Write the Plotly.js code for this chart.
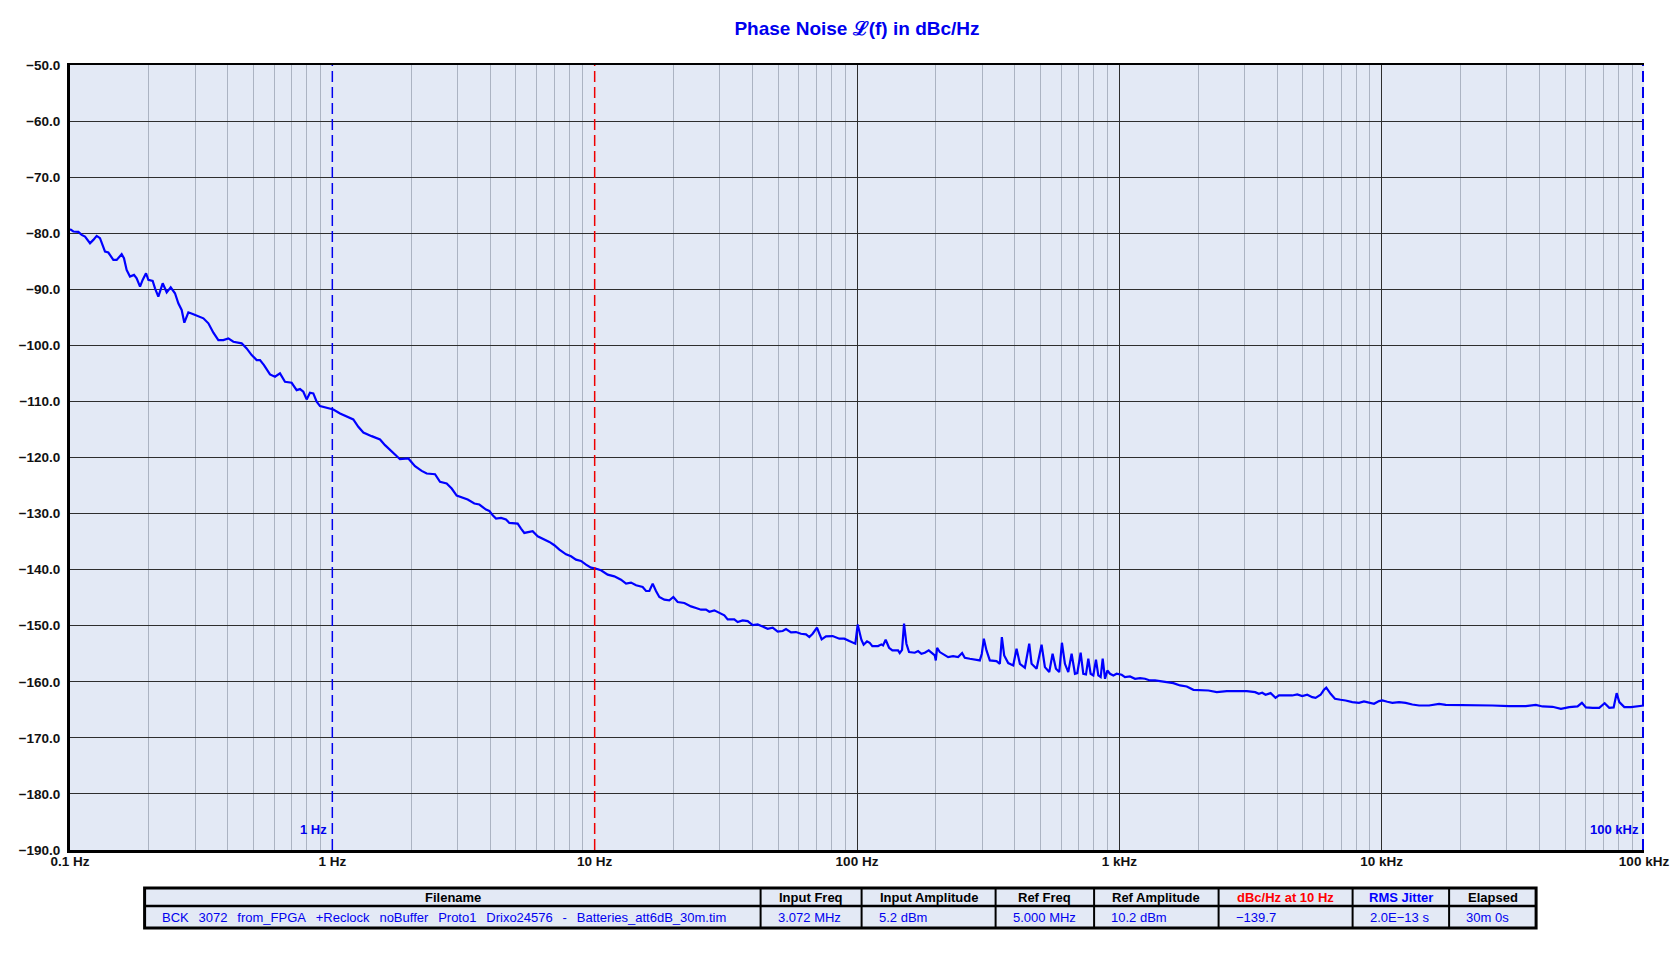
<!DOCTYPE html>
<html>
<head>
<meta charset="utf-8">
<script src="https://cdn.plot.ly/plotly-3.0.1.min.js"></script>
<style>html,body{margin:0;padding:0;background:#fff;}#chart{width:1680px;height:967px;}</style>
</head>
<body>
<div id="chart"></div>
<script>
// ---- Phase-noise trace (offset frequency in Hz, L(f) in dBc/Hz) ----
const freqHz = [
0.1,0.1006,0.1030,0.1076,0.1108,0.1141,0.1192,0.1227,0.1264,0.1301,0.1360,0.1400,0.1463,0.1506,0.1574,0.1606,
0.1644,0.1693,0.1754,0.1795,0.1849,0.1892,0.1949,0.1989,0.2066,0.2109,0.2171,0.2256,0.2337,0.2420,0.2513,0.2588,
0.2665,0.2728,0.2826,0.2953,0.3225,0.3369,0.3520,0.3677,0.3842,0.4014,0.4195,0.4512,0.4714,0.4926,0.5147,0.5300,
0.5489,0.5786,0.6045,0.6317,0.6600,0.6998,0.7311,0.7529,0.7752,0.7982,0.8219,0.8462,0.8716,0.8974,0.9515,1.009,
1.070,1.134,1.202,1.256,1.313,1.412,1.520,1.588,1.684,1.811,1.949,2.066,2.191,2.289,2.463,2.573,2.728,2.851,2.979,
3.094,3.281,3.478,3.634,3.853,3.967,4.086,4.207,4.396,4.592,4.729,5.088,5.239,5.394,5.636,5.803,6.063,6.337,6.718,
7.020,7.335,7.777,8.125,8.488,8.869,9.268,9.683,10.0,10.57,11.21,11.88,12.60,13.17,13.76,14.38,15.24,15.70,16.16,
16.64,17.13,17.64,18.43,19.26,19.95,20.72,21.97,23.29,24.34,25.43,26.58,27.36,28.59,29.87,31.21,32.14,34.07,35.08,
36.66,38.31,40.03,41.82,43.70,45.66,47.71,49.85,52.09,53.63,56.03,58.55,61.16,63.92,65.81,67.76,70.38,73.33,76.17,
80.75,85.63,89.46,93.50,98.54,100.6,
103.9,106.0,109.2,111.8,114.4,120.3,123.9,125.7,128.6,132.5,136.4,143.4,145.5,148.5,151.1,154.3,157.9,166.0,171.0,
176.0,181.3,187.7,192.2,197.9,199.7,202.0,206.8,216.1,222.5,232.5,242.9,251.6,257.6,269.2,281.3,293.9,299.1,304.4,
311.6,320.9,340.3,350.4,356.6,364.0,377.1,394.0,405.7,417.8,436.5,453.5,462.9,483.7,505.4,520.4,540.6,556.6,573.2,
590.2,604.2,620.3,638.8,657.8,677.4,691.4,712.0,728.9,746.2,761.6,777.3,795.8,814.6,831.5,848.8,864.1,882.0,900.3,
921.6,948.9,977.0,1020.7,1051,1098,1148,1199,1253,1309,1368,1430,1516,1607,1704,1807,1916,2032,2186,2352,2568,2804,
3062,3295,
3402,3504,3609,3771,3939,4057,4301,4560,4767,4981,5204,5438,5599,5851,6025,6150,6388,6636,6974,7288,7727,8195,8563,
8948,9349,9768,10060,10510,10980,11650,12350,13090,13890,15160,16550,17550,19730,22850,26450,30620,35440,38710,
41040,44810,48230,51880,55830,57990,60060,63690,67520,70790,73740,76610,78660,80530,84130,89210,94590,100000
];
const noiseDbc = [
-79.3,-79.40,-79.70,-79.76,-80.30,-80.60,-81.79,-81.19,-80.48,-80.89,-83.27,-83.45,-84.76,-84.76,-83.75,-84.46,
-86.55,-87.74,-87.44,-88.04,-89.52,-88.33,-87.14,-88.33,-88.51,-89.82,-91.31,-88.93,-90.54,-89.64,-90.71,-92.50,
-93.69,-95.95,-94.11,-94.46,-95.18,-96.07,-97.74,-99.05,-99.05,-98.75,-99.35,-99.64,-100.54,-101.73,-102.62,-102.62,
-103.51,-105.18,-105.60,-105.00,-106.49,-106.67,-107.98,-107.80,-108.27,-109.64,-108.45,-108.57,-110.06,-110.83,-111.07,-111.43,
-112.14,-112.62,-113.21,-114.52,-115.54,-116.19,-116.79,-117.80,-118.99,-120.30,-120.18,-121.55,-122.38,-122.86,-122.98,-124.35,-124.64,-125.54,-126.79,
-127.02,-127.50,-128.21,-128.39,-129.29,-129.52,-130.30,-130.89,-130.77,-131.07,-131.67,-131.79,-132.68,-133.45,-133.27,-133.15,-134.05,-134.46,-135.06,
-135.65,-136.43,-137.26,-137.62,-138.21,-138.45,-139.11,-139.64,-139.75,-140.12,-140.89,-141.19,-141.79,-142.50,-142.32,-142.80,-143.10,-143.81,-143.81,
-142.50,-143.81,-144.88,-145.36,-145.48,-144.88,-145.77,-145.95,-146.55,-146.85,-147.14,-147.14,-147.50,-147.26,-147.68,-148.15,-148.87,-148.87,-149.35,
-149.05,-149.17,-149.88,-149.76,-150.12,-150.54,-150.36,-151.07,-150.95,-150.60,-151.19,-151.13,-151.43,-151.55,-152.02,-151.43,-150.36,-152.44,-151.90,
-151.85,-152.32,-152.32,-152.74,-153.21,-149.8,
-152.50,-153.39,-152.80,-153.04,-153.63,-153.63,-153.33,-153.51,-152.50,-153.93,-154.40,-154.40,-154.88,-154.29,-149.64,-153.21,-154.70,-154.82,-154.52,
-155.00,-154.82,-154.40,-154.88,-155.30,-156.19,-153.93,-154.70,-155.30,-155.60,-155.42,-155.60,-154.88,-155.71,-155.89,-156.01,-156.19,-155.00,-152.32,
-154.40,-156.19,-156.31,-156.79,-152.02,-155.30,-156.67,-157.08,-154.11,-156.79,-157.50,-153.21,-156.79,-157.68,-153.39,-157.38,-158.27,-155.00,-157.68,
-158.27,-153.04,-156.79,-158.27,-155.00,-158.57,-158.45,-154.82,-158.57,-158.69,-155.89,-158.57,-158.87,-156.07,-158.87,-159.17,-155.89,-159.46,-157.98,
-158.57,-158.87,-158.57,-158.75,-159.17,-159.05,-159.46,-159.35,-159.46,-159.76,-159.76,-159.88,-160.06,-160.24,-160.65,-160.83,-161.43,-161.43,-161.55,-161.85,-161.67,-161.67,
-161.67,-161.85,
-162.14,-161.96,-162.32,-162.02,-162.86,-162.44,-162.38,-162.44,-162.26,-162.56,-162.32,-162.74,-162.86,-162.32,-161.43,-161.05,-162.14,-163.04,-163.21,-163.33,-163.63,-163.75,-163.51,
-163.75,-163.93,-163.45,-163.33,-163.57,-163.75,-163.63,-163.75,-164.05,-164.23,-164.23,-163.93,-164.11,-164.11,-164.23,-164.23,-164.35,-164.35,-164.11,
-164.40,-164.46,-164.82,-164.52,-164.40,-163.75,-164.58,-164.64,-164.64,-163.81,-164.64,-164.58,-162.02,-163.63,-164.52,-164.52,-164.40,-164.23
];

// ---- Axis ticks ----
const decadeTicks = [0.1, 1, 10, 100, 1000, 10000, 100000];
const decadeLabels = ["0.1 Hz", "1 Hz", "10 Hz", "100 Hz", "1 kHz", "10 kHz", "100 kHz"];
const darkGridDecades = [100, 1000, 10000];
const minorDigits = [2, 3, 4, 5, 6, 7, 8, 9];

// ---- Marker lines ----
const markerFreqs = [1, 10, 100000];
const markerColors = ["#0000ee", "#ee0000", "#0000ee"];
const markerLabels = ["1 Hz", "", "100 kHz"];

// ---- Info table ----
const tableHeaders = ["Filename", "Input Freq", "Input Amplitude", "Ref Freq", "Ref Amplitude", "dBc/Hz at 10 Hz", "RMS Jitter", "Elapsed"];
const filenameWords = ["BCK", "3072", "from_FPGA", "+Reclock", "noBuffer", "Proto1", "Drixo24576", "-", "Batteries_att6dB_30m.tim"];
const tableValues = [filenameWords.join("\u00a0\u2009 "), "3.072 MHz", "5.2 dBm", "5.000 MHz", "10.2 dBm", "\u2212139.7", "2.0E\u221213 s", "30m 0s"];
const headerColors = ["#000000", "#000000", "#000000", "#000000", "#000000", "#ff0000", "#0000ff", "#000000"];
const columnWidths = [616, 101, 134, 98.5, 124.5, 134, 96.5, 87];

const FONT = "Liberation Sans, Arial, sans-serif";
const BLUE = "#0000ee";
const TABLE_BG = "#e3e9f5";

// page geometry (px) for the plot area and the table under it
const M = { l: 70, r: 36, t: 65, b: 117 };
const PLOT_W = 1680 - M.l - M.r, PLOT_H = 967 - M.t - M.b;
const px2x = px => (px - M.l) / PLOT_W;
const py2y = py => (967 - M.b - py) / PLOT_H;
const TBL = { left: 144.6, top: 888, mid: 906, bottom: 928, pad: 15 };

const minorTicks = [];
for (let d = 0; d < decadeTicks.length - 1; d++) {
  for (const m of minorDigits) minorTicks.push(decadeTicks[d] * m);
}

const traces = [];
traces.push({
  type: "scatter", mode: "lines", x: freqHz, y: noiseDbc,
  line: { color: "#0000ff", width: 2.2 }, hoverinfo: "x+y", showlegend: false
});
const markerWidths = [1.5, 1.5, 4];
markerFreqs.forEach((f, i) => {
  traces.push({
    type: "scatter", mode: "lines", x: [f, f], y: [-190, -50], xaxis: "x2",
    line: { color: markerColors[i], width: markerWidths[i], dash: "11px,5px" }, hoverinfo: "skip", showlegend: false
  });
});

const annotations = markerLabels.map((t, i) => ({
  text: t, x: Math.log10(markerFreqs[i]), xref: "x", y: -190, yref: "y",
  xanchor: "right", yanchor: "bottom", xshift: -3, yshift: 11, showarrow: false,
  font: { family: FONT, size: 13, color: BLUE, weight: "bold" }
})).filter(a => a.text !== "");

// table cells as shapes + text
const shapes = [];
const colEdges = [TBL.left];
columnWidths.forEach(w => colEdges.push(colEdges[colEdges.length - 1] + w));
const tRight = colEdges[colEdges.length - 1];
shapes.push({ type: "rect", xref: "paper", yref: "paper", x0: px2x(TBL.left), x1: px2x(tRight), y0: py2y(TBL.bottom), y1: py2y(TBL.top),
  fillcolor: TABLE_BG, line: { width: 0 }, layer: "above" });
shapes.push({ type: "line", xref: "paper", yref: "paper", x0: px2x(TBL.left), x1: px2x(tRight), y0: py2y(TBL.mid), y1: py2y(TBL.mid),
  line: { color: "#000000", width: 2.5 } });
for (let i = 1; i < colEdges.length - 1; i++) {
  shapes.push({ type: "line", xref: "paper", yref: "paper", x0: px2x(colEdges[i]), x1: px2x(colEdges[i]), y0: py2y(TBL.bottom), y1: py2y(TBL.top),
    line: { color: "#000000", width: 2 } });
}
shapes.push({ type: "rect", xref: "paper", yref: "paper", x0: px2x(TBL.left), x1: px2x(tRight), y0: py2y(TBL.bottom), y1: py2y(TBL.top),
  line: { color: "#000000", width: 3 } });

tableHeaders.forEach((h, i) => {
  annotations.push({
    text: h, xref: "paper", yref: "paper",
    x: px2x((colEdges[i] + colEdges[i + 1]) / 2), y: py2y((TBL.top + TBL.mid) / 2),
    xanchor: "center", yanchor: "middle", showarrow: false,
    font: { family: FONT, size: 13, color: headerColors[i], weight: "bold" }
  });
});
tableValues.forEach((v, i) => {
  annotations.push({
    text: v, xref: "paper", yref: "paper",
    x: px2x(colEdges[i] + TBL.pad), y: py2y((TBL.mid + TBL.bottom) / 2),
    xanchor: "left", yanchor: "middle", showarrow: false,
    font: { family: FONT, size: 13, color: BLUE }
  });
});

const layout = {
  width: 1680, height: 967,
  paper_bgcolor: "#ffffff", plot_bgcolor: "#e3e9f5",
  margin: M,
  showlegend: false,
  title: {
    text: "Phase Noise \u2112(f) in dBc/Hz",
    x: 0.5, xref: "paper", xanchor: "center",
    y: 1 - 28 / 967, yref: "container", yanchor: "middle",
    font: { family: FONT, size: 19, color: BLUE, weight: "bold" }
  },
  xaxis: {
    type: "log", range: [-1, 5],
    tickmode: "array", tickvals: decadeTicks, ticktext: decadeLabels,
    showgrid: false, zeroline: false, ticks: "",
    showline: true, linecolor: "#000000", linewidth: 3,
    ticklabelstandoff: -3,
    tickfont: { family: FONT, size: 13.5, color: "#111111", weight: "bold" },
    minor: { tickmode: "array", tickvals: minorTicks, showgrid: true, gridcolor: "#abb3c2", gridwidth: 1, ticks: "" },
    fixedrange: true
  },
  xaxis2: {
    type: "log", range: [-1, 5], overlaying: "x", anchor: "y", side: "top",
    tickmode: "array", tickvals: darkGridDecades, showticklabels: false, ticks: "",
    showgrid: true, gridcolor: "#2e2e2e", gridwidth: 1, zeroline: false,
    showline: true, linecolor: "#000000", linewidth: 2, fixedrange: true
  },
  yaxis: {
    range: [-190, -50],
    tick0: -190, dtick: 10, tickformat: ".1f",
    showgrid: true, gridcolor: "#2e2e2e", gridwidth: 1, zeroline: false,
    showline: true, linecolor: "#000000", linewidth: 3, ticks: "",
    ticklabelstandoff: 4,
    tickfont: { family: FONT, size: 13.5, color: "#111111", weight: "bold" },
    fixedrange: true
  },
  shapes: shapes,
  annotations: annotations
};

Plotly.newPlot("chart", traces, layout, { staticPlot: true, displayModeBar: false });
</script>
</body>
</html>
